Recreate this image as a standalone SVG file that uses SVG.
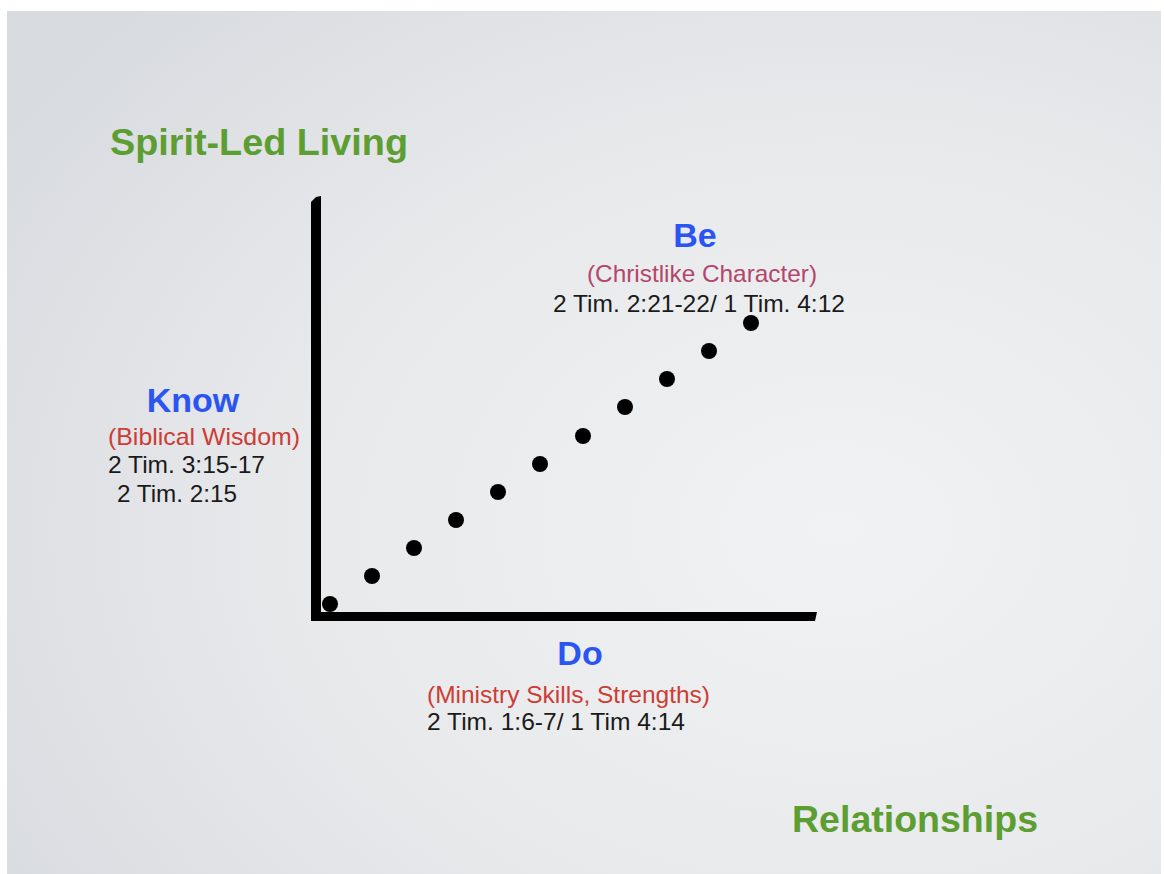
<svg xmlns="http://www.w3.org/2000/svg" width="1164" height="874" viewBox="0 0 1164 874">
<defs>
<radialGradient id="bg" cx="0.72" cy="0.6" r="0.85">
<stop offset="0" stop-color="#f1f2f3"/>
<stop offset="0.55" stop-color="#e8e9eb"/>
<stop offset="1" stop-color="#d8dbe0"/>
</radialGradient>
<style>
.t{font-family:"Liberation Sans",Arial,sans-serif}
.green{fill:#5c9e31;font-weight:bold;font-size:36px}
.blue{fill:#2a55f2;font-weight:bold;font-size:34px}
.red{fill:#cc3d35;font-size:24px}
.mag{fill:#b3466b;font-size:24px}
.ref{fill:#1a1a1a;font-size:24px}
.dot{fill:#000}
</style>
</defs>
<rect x="0" y="0" width="1164" height="874" fill="#ffffff"/>
<rect x="7" y="11" width="1154" height="863" fill="url(#bg)"/>
<g id="title-spirit">
<text class="t green" x="110" y="155" textLength="298" lengthAdjust="spacingAndGlyphs">Spirit-Led Living</text>
</g>
<g id="title-relationships">
<text class="t green" x="792" y="832" textLength="246" lengthAdjust="spacingAndGlyphs">Relationships</text>
</g>
<g id="connectors">
<path d="M311,202 L316,197 L321,196 L321,621 L311,621 Z" fill="#000"/>
<path d="M311,612 L817,612 L815,621 L311,621 Z" fill="#000"/>
</g>
<g id="dots">
<circle class="dot" cx="330" cy="604" r="8"/>
<circle class="dot" cx="372" cy="576" r="8"/>
<circle class="dot" cx="414" cy="548" r="8"/>
<circle class="dot" cx="456" cy="520" r="8"/>
<circle class="dot" cx="498" cy="492" r="8"/>
<circle class="dot" cx="540" cy="464" r="8"/>
<circle class="dot" cx="583" cy="436" r="8"/>
<circle class="dot" cx="625" cy="407" r="8"/>
<circle class="dot" cx="667" cy="379" r="8"/>
<circle class="dot" cx="709" cy="351" r="8"/>
<circle class="dot" cx="751" cy="323" r="8"/>
</g>
<g id="node-be">
<text class="t blue" x="695" y="247" text-anchor="middle">Be</text>
<text class="t mag" x="702" y="282" text-anchor="middle" textLength="230" lengthAdjust="spacingAndGlyphs">(Christlike Character)</text>
<text class="t ref" x="553" y="312" textLength="292" lengthAdjust="spacingAndGlyphs">2 Tim. 2:21-22/ 1 Tim. 4:12</text>
</g>
<g id="node-know">
<text class="t blue" x="193" y="412" text-anchor="middle" font-size="35">Know</text>
<text class="t red" x="108" y="445" textLength="192" lengthAdjust="spacingAndGlyphs">(Biblical Wisdom)</text>
<text class="t ref" x="108" y="473" textLength="157" lengthAdjust="spacingAndGlyphs">2 Tim. 3:15-17</text>
<text class="t ref" x="117" y="502" textLength="120" lengthAdjust="spacingAndGlyphs">2 Tim. 2:15</text>
</g>
<g id="node-do">
<text class="t blue" x="580" y="665" text-anchor="middle">Do</text>
<text class="t red" x="427" y="703" textLength="283" lengthAdjust="spacingAndGlyphs">(Ministry Skills, Strengths)</text>
<text class="t ref" x="427" y="730" textLength="258" lengthAdjust="spacingAndGlyphs">2 Tim. 1:6-7/ 1 Tim 4:14</text>
</g>
</svg>
